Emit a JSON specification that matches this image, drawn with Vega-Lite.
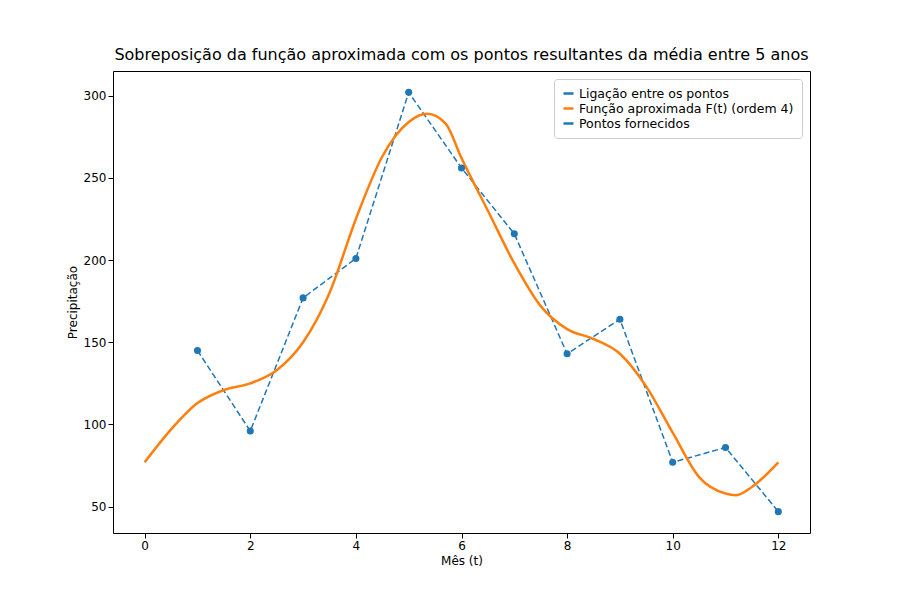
{
  "$schema": "https://vega.github.io/schema/vega-lite/v6.json",
  "width": 697,
  "height": 462,
  "padding": {"left": 66, "top": 47, "right": 30, "bottom": 5},
  "config": {
    "font": "DejaVu Sans",
    "view": {"stroke": "black"},
    "axis": {"grid": false, "domain": false, "labelFontSize": 12, "titleFontSize": 12, "titleFontWeight": "normal", "tickColor": "black", "labelColor": "black", "titleColor": "black"},
    "legend": {"labelFontSize": 12.5, "labelLimit": 400, "strokeColor": "#cccccc", "padding": 8, "cornerRadius": 3, "fillColor": "white", "symbolStrokeWidth": 2.5}
  },
  "title": {"text": "Sobreposição da função aproximada com os pontos resultantes da média entre 5 anos", "fontSize": 16, "fontWeight": "normal", "offset": 8},
  "datasets": {
    "pts": [
      {"t": 1, "p": 145}, {"t": 2, "p": 96}, {"t": 3, "p": 177}, {"t": 4, "p": 201},
      {"t": 5, "p": 302}, {"t": 6, "p": 256}, {"t": 7, "p": 216}, {"t": 8, "p": 143},
      {"t": 9, "p": 164}, {"t": 10, "p": 77}, {"t": 11, "p": 86}, {"t": 12, "p": 47}
    ],
    "curve": [
      {"t": 0, "p": 77}, {"t": 0.5, "p": 97}, {"t": 1, "p": 113}, {"t": 1.5, "p": 121},
      {"t": 2, "p": 125}, {"t": 2.5, "p": 133}, {"t": 3, "p": 150}, {"t": 3.5, "p": 180},
      {"t": 4, "p": 225}, {"t": 4.5, "p": 263}, {"t": 5, "p": 284}, {"t": 5.35, "p": 289},
      {"t": 5.7, "p": 283}, {"t": 6, "p": 262}, {"t": 6.5, "p": 230}, {"t": 7, "p": 198},
      {"t": 7.5, "p": 172}, {"t": 8, "p": 158}, {"t": 8.5, "p": 152}, {"t": 9, "p": 143},
      {"t": 9.5, "p": 123}, {"t": 10, "p": 95}, {"t": 10.5, "p": 68}, {"t": 11, "p": 58},
      {"t": 11.2, "p": 57}, {"t": 11.5, "p": 62}, {"t": 12, "p": 77}
    ]
  },
  "encoding": {
    "x": {"field": "t", "type": "quantitative", "title": "Mês (t)", "scale": {"domain": [-0.6, 12.6], "nice": false}, "axis": {"values": [0, 2, 4, 6, 8, 10, 12]}},
    "y": {"field": "p", "type": "quantitative", "title": "Precipitação", "scale": {"domain": [34, 315], "nice": false}, "axis": {"values": [50, 100, 150, 200, 250, 300]}}
  },
  "layer": [
    {
      "data": {"name": "pts"},
      "transform": [{"calculate": "'Ligação entre os pontos'", "as": "s"}],
      "mark": {"type": "line", "strokeDash": [6, 3], "strokeWidth": 1.5},
      "encoding": {"color": {"field": "s", "type": "nominal", "title": null,
        "scale": {"domain": ["Ligação entre os pontos", "Função aproximada F(t) (ordem 4)", "Pontos fornecidos"], "range": ["#1f77b4", "#ff7f0e", "#1f77b4"]},
        "legend": {"orient": "top-right", "symbolType": "stroke", "offset": 8}}}
    },
    {
      "data": {"name": "curve"},
      "transform": [{"calculate": "'Função aproximada F(t) (ordem 4)'", "as": "s"}],
      "mark": {"type": "line", "interpolate": "monotone", "strokeWidth": 2.5},
      "encoding": {"color": {"field": "s", "type": "nominal"}}
    },
    {
      "data": {"name": "pts"},
      "mark": {"type": "point", "filled": true, "size": 50, "opacity": 1, "color": "#1f77b4"},
      "encoding": {}
    }
  ]
}
